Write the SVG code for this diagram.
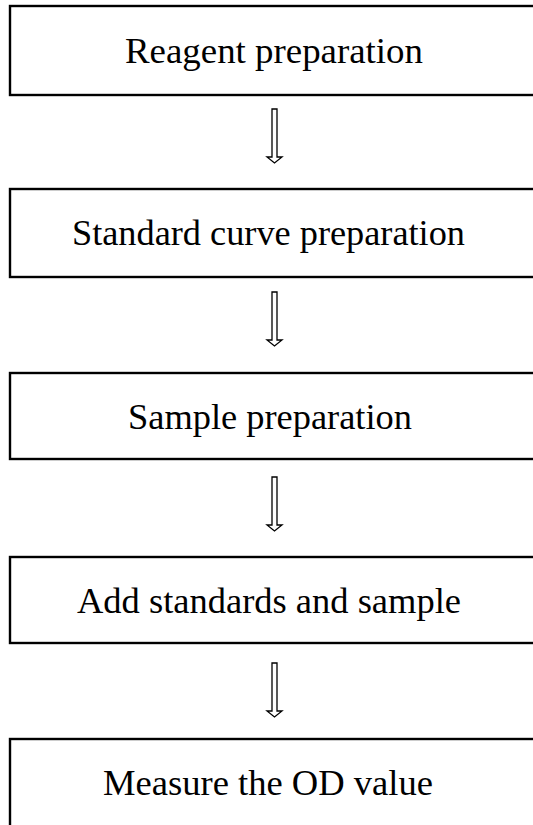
<svg xmlns="http://www.w3.org/2000/svg" xmlns:xlink="http://www.w3.org/1999/xlink" width="533" height="825" viewBox="0 0 533 825">
  <style>
    .box { fill: #ffffff; stroke: #000000; stroke-width: 2.4; }
    .lbl { font-family: "Liberation Serif", "Times New Roman", serif; font-size: 35px; fill: #000000; text-anchor: start; }
    .arrow { fill: #ffffff; stroke: #000000; stroke-width: 1.3; stroke-linejoin: miter; }
  </style>
  <defs>
    <path id="arr" d="M272,0 L277,0 L277,48 L282,48 L274.5,54 L267,48 L272,48 Z"/>
  </defs>
  <rect width="533" height="825" fill="#ffffff"/>

  <g id="connectors">
    <use xlink:href="#arr" class="arrow" transform="translate(0,109)"/>
    <use xlink:href="#arr" class="arrow" transform="translate(0,292)"/>
    <use xlink:href="#arr" class="arrow" transform="translate(0,477)"/>
    <use xlink:href="#arr" class="arrow" transform="translate(0,663)"/>
  </g>

  <g id="node1">
    <rect class="box" x="10" y="6" width="540" height="89"/>
    <text class="lbl" x="125" y="63" textLength="298" lengthAdjust="spacingAndGlyphs">Reagent preparation</text>
  </g>
  <g id="node2">
    <rect class="box" x="10" y="189" width="540" height="88"/>
    <text class="lbl" x="72" y="245" textLength="393" lengthAdjust="spacingAndGlyphs">Standard curve preparation</text>
  </g>
  <g id="node3">
    <rect class="box" x="10" y="373" width="540" height="86"/>
    <text class="lbl" x="128" y="429" textLength="284" lengthAdjust="spacingAndGlyphs">Sample preparation</text>
  </g>
  <g id="node4">
    <rect class="box" x="10" y="557" width="540" height="86"/>
    <text class="lbl" x="77" y="613" textLength="384" lengthAdjust="spacingAndGlyphs">Add standards and sample</text>
  </g>
  <g id="node5">
    <rect class="box" x="10" y="739" width="540" height="100"/>
    <text class="lbl" x="103" y="795" textLength="330" lengthAdjust="spacingAndGlyphs">Measure the OD value</text>
  </g>
</svg>
